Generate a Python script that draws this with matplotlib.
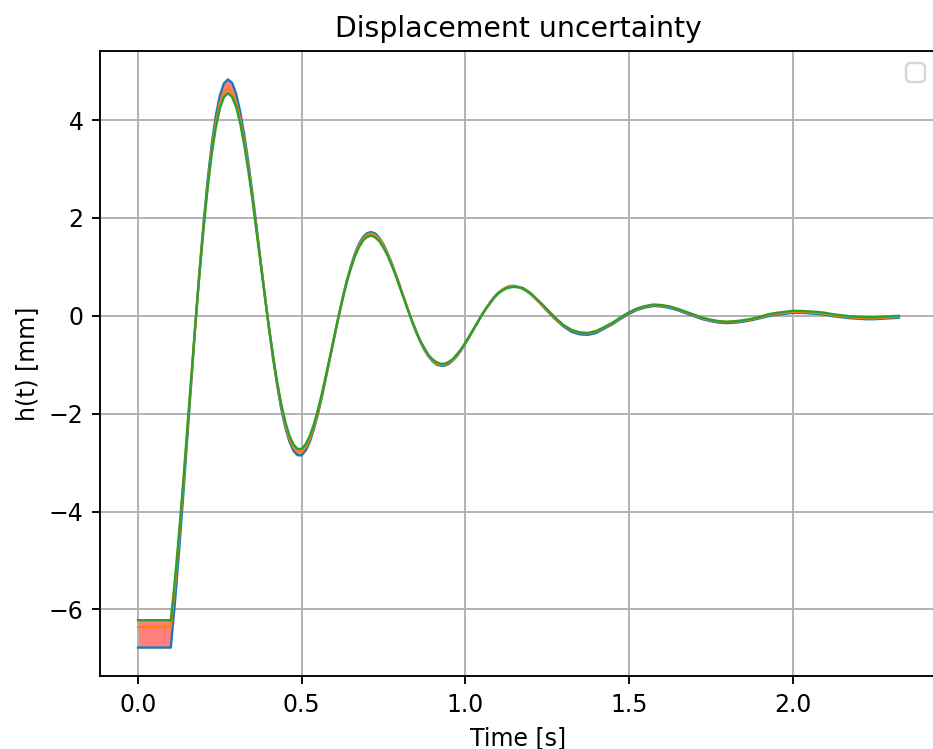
import matplotlib
matplotlib.use("Agg")
import matplotlib.pyplot as plt

# Sample times [s]: finer step over the large early swings, coarser later
time = [0.0,
        0.1000, 0.1125, 0.1250, 0.1375, 0.1500, 0.1625, 0.1750, 0.1875, 0.2000, 0.2125,
        0.2250, 0.2375, 0.2500, 0.2625, 0.2750, 0.2875, 0.3000, 0.3125, 0.3250, 0.3375,
        0.3500, 0.3625, 0.3750, 0.3875, 0.4000, 0.4125, 0.4250, 0.4375, 0.4500, 0.4625,
        0.4750, 0.4875, 0.5000, 0.5125, 0.5250, 0.5375, 0.5500, 0.5625, 0.5750, 0.5875,
        0.6000, 0.6125, 0.6250, 0.6375, 0.6500, 0.6625, 0.6750, 0.6875, 0.7000, 0.7125,
        0.7250, 0.7375, 0.7500, 0.7625, 0.7750, 0.7875, 0.8000, 0.8125, 0.8250, 0.8375,
        0.8500, 0.8625, 0.8750, 0.8875, 0.9000, 0.9125, 0.9250, 0.9375, 0.9500, 0.9625,
        0.9750, 0.9875, 1.0000, 1.0125, 1.0250, 1.0375, 1.0500, 1.0625, 1.0750, 1.0875,
        1.1000, 1.1125, 1.1250, 1.1375, 1.1500, 1.1625, 1.1750, 1.1875, 1.2000, 1.2125,
        1.2250, 1.2375, 1.2500,
        1.275, 1.300, 1.325, 1.350, 1.375, 1.400, 1.425, 1.450, 1.475, 1.500,
        1.525, 1.550, 1.575, 1.600, 1.625, 1.650, 1.675, 1.700, 1.725, 1.750,
        1.775, 1.800, 1.825, 1.850, 1.875, 1.900, 1.925, 1.950, 1.975, 2.000,
        2.025, 2.050, 2.075, 2.100, 2.125, 2.150, 2.175, 2.200, 2.225, 2.250,
        2.275, 2.300, 2.325]

# Displacement h(t) [mm], upper-amplitude case
h_high = [-6.78,
          -6.78, -5.88, -4.84, -3.72, -2.54, -1.35, -0.20, 0.90, 1.89, 2.77,
          3.50, 4.08, 4.50, 4.75, 4.83, 4.76, 4.53, 4.16, 3.68, 3.11,
          2.48, 1.80, 1.10, 0.41, -0.25, -0.87, -1.42, -1.90, -2.28, -2.57,
          -2.76, -2.85, -2.85, -2.75, -2.57, -2.31, -2.00, -1.64, -1.24, -0.84,
          -0.43, -0.02, 0.36, 0.71, 1.01, 1.27, 1.47, 1.61, 1.69, 1.71,
          1.68, 1.59, 1.46, 1.28, 1.08, 0.85, 0.61, 0.36, 0.12, -0.12,
          -0.34, -0.53, -0.70, -0.83, -0.93, -1.00, -1.02, -1.02, -0.98, -0.91,
          -0.82, -0.70, -0.57, -0.43, -0.28, -0.14, 0.01, 0.14, 0.27, 0.38,
          0.47, 0.53, 0.58, 0.61, 0.61, 0.59, 0.55, 0.50, 0.44, 0.36,
          0.28, 0.19, 0.10,
          -0.07, -0.22, -0.33, -0.38, -0.39, -0.35, -0.26, -0.17, -0.06, 0.04,
          0.12, 0.17, 0.20, 0.19, 0.16, 0.11, 0.05, -0.01, -0.07, -0.11,
          -0.14, -0.15, -0.14, -0.12, -0.09, -0.05, -0.01, 0.02, 0.04, 0.06,
          0.06, 0.05, 0.04, 0.02, -0.01, -0.03, -0.05, -0.06, -0.07, -0.07,
          -0.06, -0.05, -0.04]

# Nominal case
h_nominal = [-6.36,
             -6.36, -5.53, -4.57, -3.52, -2.41, -1.29, -0.19, 0.86, 1.81, 2.66,
             3.37, 3.93, 4.33, 4.57, 4.65, 4.57, 4.35, 4.01, 3.55, 3.01,
             2.40, 1.74, 1.07, 0.40, -0.24, -0.84, -1.38, -1.84, -2.22, -2.51,
             -2.69, -2.78, -2.78, -2.68, -2.51, -2.26, -1.96, -1.60, -1.22, -0.82,
             -0.42, -0.02, 0.35, 0.69, 0.99, 1.24, 1.44, 1.57, 1.65, 1.68,
             1.64, 1.56, 1.43, 1.26, 1.06, 0.84, 0.60, 0.36, 0.12, -0.11,
             -0.33, -0.52, -0.68, -0.82, -0.91, -0.98, -1.00, -1.00, -0.96, -0.90,
             -0.80, -0.69, -0.56, -0.42, -0.28, -0.13, 0.01, 0.14, 0.26, 0.37,
             0.46, 0.53, 0.57, 0.60, 0.60, 0.59, 0.56, 0.51, 0.45, 0.37,
             0.29, 0.21, 0.12,
             -0.05, -0.20, -0.30, -0.35, -0.36, -0.32, -0.24, -0.15, -0.04, 0.06,
             0.14, 0.19, 0.22, 0.21, 0.18, 0.13, 0.07, 0.01, -0.05, -0.09,
             -0.12, -0.13, -0.12, -0.10, -0.07, -0.03, 0.01, 0.04, 0.06, 0.08,
             0.08, 0.07, 0.06, 0.04, 0.01, -0.01, -0.03, -0.04, -0.05, -0.05,
             -0.04, -0.03, -0.02]

# Lower-amplitude case
h_low = [-6.22,
         -6.22, -5.41, -4.47, -3.44, -2.36, -1.26, -0.18, 0.84, 1.77, 2.60,
         3.30, 3.84, 4.24, 4.47, 4.55, 4.47, 4.26, 3.92, 3.47, 2.94,
         2.35, 1.70, 1.05, 0.39, -0.23, -0.82, -1.35, -1.80, -2.17, -2.45,
         -2.63, -2.72, -2.72, -2.62, -2.45, -2.21, -1.91, -1.57, -1.19, -0.80,
         -0.41, -0.02, 0.34, 0.68, 0.96, 1.21, 1.40, 1.54, 1.61, 1.64,
         1.60, 1.52, 1.39, 1.23, 1.03, 0.82, 0.58, 0.35, 0.11, -0.11,
         -0.32, -0.51, -0.66, -0.80, -0.89, -0.95, -0.98, -0.98, -0.94, -0.88,
         -0.78, -0.68, -0.55, -0.41, -0.27, -0.13, 0.01, 0.14, 0.25, 0.36,
         0.45, 0.51, 0.56, 0.58, 0.59, 0.58, 0.57, 0.52, 0.46, 0.38,
         0.30, 0.22, 0.13,
         -0.04, -0.19, -0.29, -0.34, -0.35, -0.31, -0.23, -0.14, -0.03, 0.07,
         0.15, 0.20, 0.23, 0.22, 0.19, 0.14, 0.08, 0.02, -0.04, -0.08,
         -0.11, -0.12, -0.11, -0.09, -0.06, -0.02, 0.03, 0.06, 0.08, 0.10,
         0.10, 0.09, 0.08, 0.06, 0.03, 0.01, -0.01, -0.02, -0.03, -0.03,
         -0.02, -0.01, 0.00]

DPI = 170
fig = plt.figure(figsize=(933 / DPI, 749 / DPI), dpi=DPI)
ax = fig.add_axes([100 / 933, 73 / 749, 837 / 933, 625 / 749])

ax.fill_between(time, h_high, h_low, color="red", alpha=0.5, linewidth=0)
ax.plot(time, h_high, color="C0", linewidth=1.0)
ax.plot(time, h_nominal, color="C1", linewidth=1.0)
ax.plot(time, h_low, color="C2", linewidth=1.0)

ax.set_title("Displacement uncertainty")
ax.set_xlabel("Time [s]")
ax.set_ylabel("h(t) [mm]")
ax.grid(True)
ax.legend(loc="upper right")

fig.savefig("out.png", dpi=DPI)
